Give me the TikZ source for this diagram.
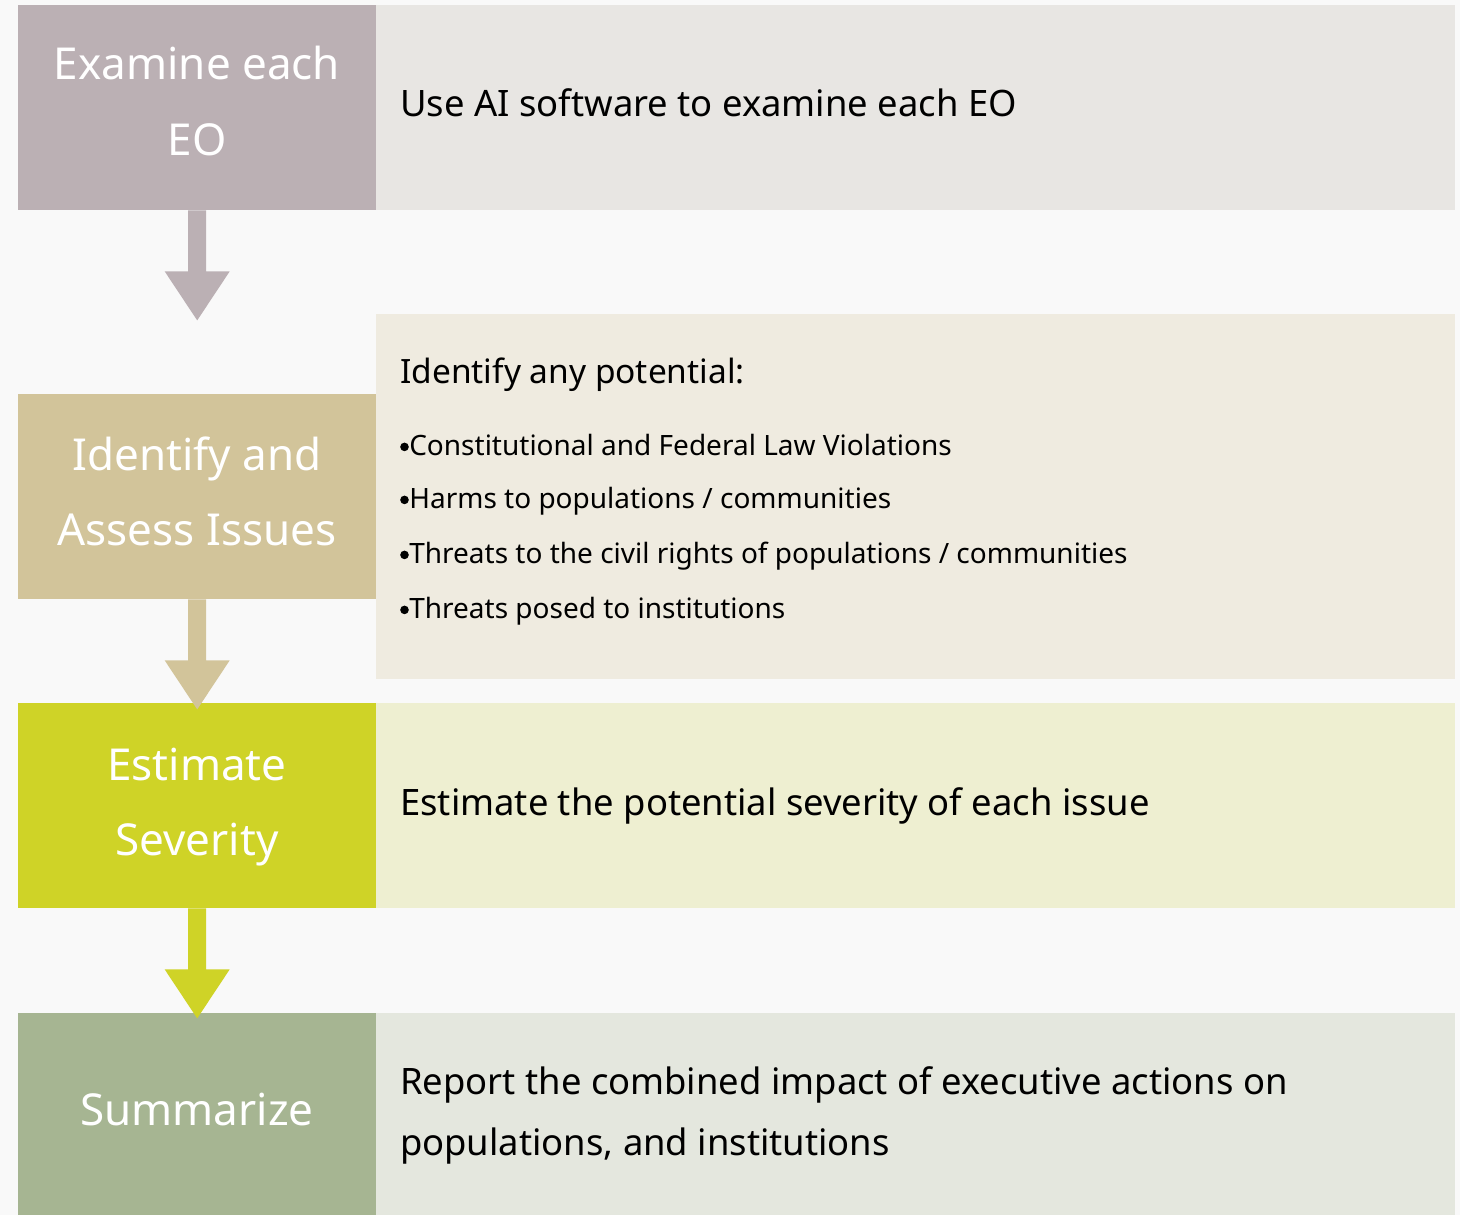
\documentclass[tikz,border=0pt]{standalone}
\usepackage{fontspec}
\setmainfont{Noto Sans}
\definecolor{bg}{HTML}{F9F9F9}
\definecolor{la}{HTML}{BBB0B4}
\definecolor{ra}{HTML}{E8E6E3}
\definecolor{lb}{HTML}{D2C49A}
\definecolor{rb}{HTML}{EFEBE0}
\definecolor{lc}{HTML}{CFD327}
\definecolor{rc}{HTML}{EEEFD1}
\definecolor{ld}{HTML}{A6B592}
\definecolor{rd}{HTML}{E4E7DE}
\newcommand{\bul}{\raisebox{3.8pt}{\tikz\fill (0,0) circle (4.3pt);}\hspace{0.5pt}}
\tikzset{
  lbox/.style={anchor=north west, inner sep=0pt, minimum width=358pt, minimum height=205pt},
  rbox/.style={anchor=north west, inner sep=0pt, minimum width=1079pt},
  lab/.style={anchor=base, inner sep=0pt, text=white, font={\fontsize{44}{75}\selectfont}},
  big/.style={anchor=base west, inner sep=0pt, font={\fontsize{36.4}{61}\selectfont}},
  mid/.style={anchor=base west, inner sep=0pt, font={\fontsize{33.5}{40}\selectfont}},
  small/.style={anchor=base west, inner sep=0pt, font={\fontsize{28}{40}\selectfont}},
}
\newcommand{\blockarrow}[2]{%
  \fill[#2] (#1.south) ++(-9,0) -- ++(0,61) -- ++(-23.5,0) -- ++(32.5,49) -- ++(32.5,-49) -- ++(-23.5,0) -- ++(0,-61) -- cycle;}
\begin{document}
\begin{tikzpicture}[x=1pt,y=-1pt]
\useasboundingbox (0,0) rectangle (1460,1215);
\fill[bg] (0,0) rectangle (1460,1215);
% row 1
\node[rbox, fill=ra, minimum height=205pt] (r1) at (376,5) {};
\node[lbox, fill=la] (l1) at (18,5) {};
\node[lab] (s1a) at (197,80) {Examine each};
\node[lab] (s1b) at (197,155) {EO};
\node[big] (t1) at (400,117) {Use AI software to examine each EO};
% row 2
\node[rbox, fill=rb, minimum height=365pt] (r2) at (376,314) {};
\node[lbox, fill=lb] (l2) at (18,394) {};
\node[lab] (s2a) at (197,470) {Identify and};
\node[lab] (s2b) at (197,545) {Assess Issues};
\node[mid] (t2) at (400,383) {Identify any potential:};
\node[small] (b1) at (400,455) {\bul Constitutional and Federal Law Violations};
\node[small] (b2) at (400,508) {\bul Harms to populations / communities};
\node[small] (b3) at (400,563) {\bul Threats to the civil rights of populations / communities};
\node[small] (b4) at (400,618) {\bul Threats posed to institutions};
% row 3
\node[rbox, fill=rc, minimum height=205pt] (r3) at (376,703) {};
\node[lbox, fill=lc] (l3) at (18,703) {};
\node[lab] (s3a) at (197,780) {Estimate};
\node[lab] (s3b) at (197,855) {Severity};
\node[big] (t3) at (400,815) {Estimate the potential severity of each issue};
% row 4
\node[rbox, fill=rd, minimum height=210pt] (r4) at (376,1013) {};
\node[lbox, fill=ld, minimum height=210pt] (l4) at (18,1013) {};
\node[lab] (s4) at (197,1125) {Summarize};
\node[big] (t4a) at (400,1094) {Report the combined impact of executive actions on};
\node[big] (t4b) at (400,1155) {populations, and institutions};
% arrows
\blockarrow{l1}{la}
\blockarrow{l2}{lb}
\blockarrow{l3}{lc}
\end{tikzpicture}
\end{document}
